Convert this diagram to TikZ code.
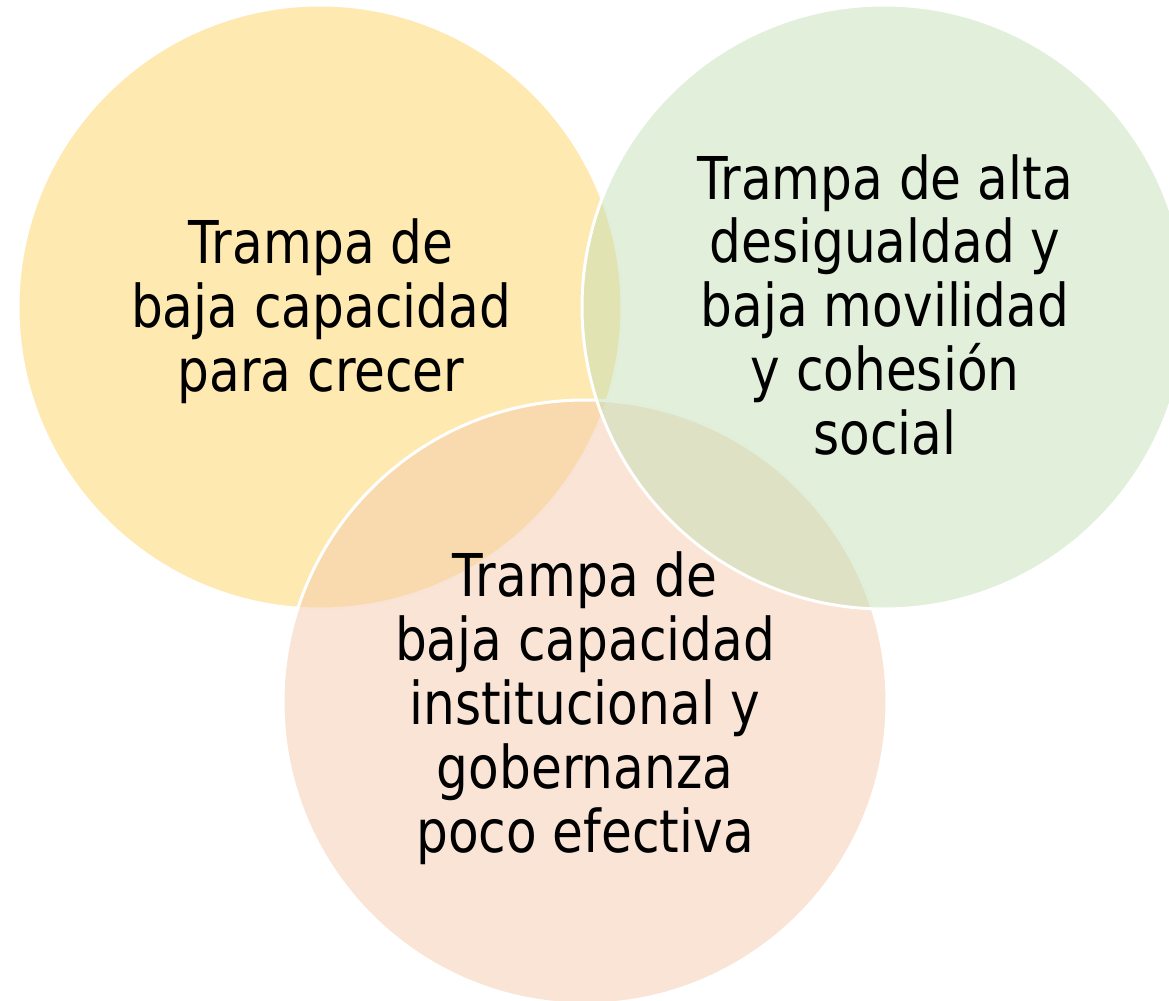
\documentclass[tikz,border=0pt]{standalone}
\usepackage{fontspec}
\setmainfont{DejaVu Sans}[FakeStretch=0.85]
\definecolor{vennyellow}{RGB}{253,211,97}
\definecolor{venngreen}{RGB}{197,223,181}
\definecolor{vennpeach}{RGB}{245,201,173}
\begin{document}
\begin{tikzpicture}[x=0.5pt,y=-0.5pt,
  venn/.style={circle, draw=white, line width=1.5pt, fill opacity=0.5, minimum size=302pt, inner sep=0pt},
  trap/.style={align=center, font=\fontsize{29.5}{32}\selectfont, text=black}]
\useasboundingbox (0,0) rectangle (1169,1001);
% three overlapping circles
\node [venn, fill=vennyellow] (crecer) at (320,307) {};
\node [venn, fill=vennpeach] (gobernanza) at (585,702) {};
\node [venn, fill=venngreen] (cohesion) at (884,307) {};
% labels
\node [trap] (crecertxt) at (321,311) {Trampa de\\baja capacidad\\para crecer};
\node [trap] (cohesiontxt) at (885,305) {Trampa de alta\\desigualdad y\\baja movilidad\\y cohesión\\social};
\node [trap] (gobernanzatxt) at (585,708) {Trampa de\\baja capacidad\\institucional y\\gobernanza\\poco efectiva};
\end{tikzpicture}
\end{document}
